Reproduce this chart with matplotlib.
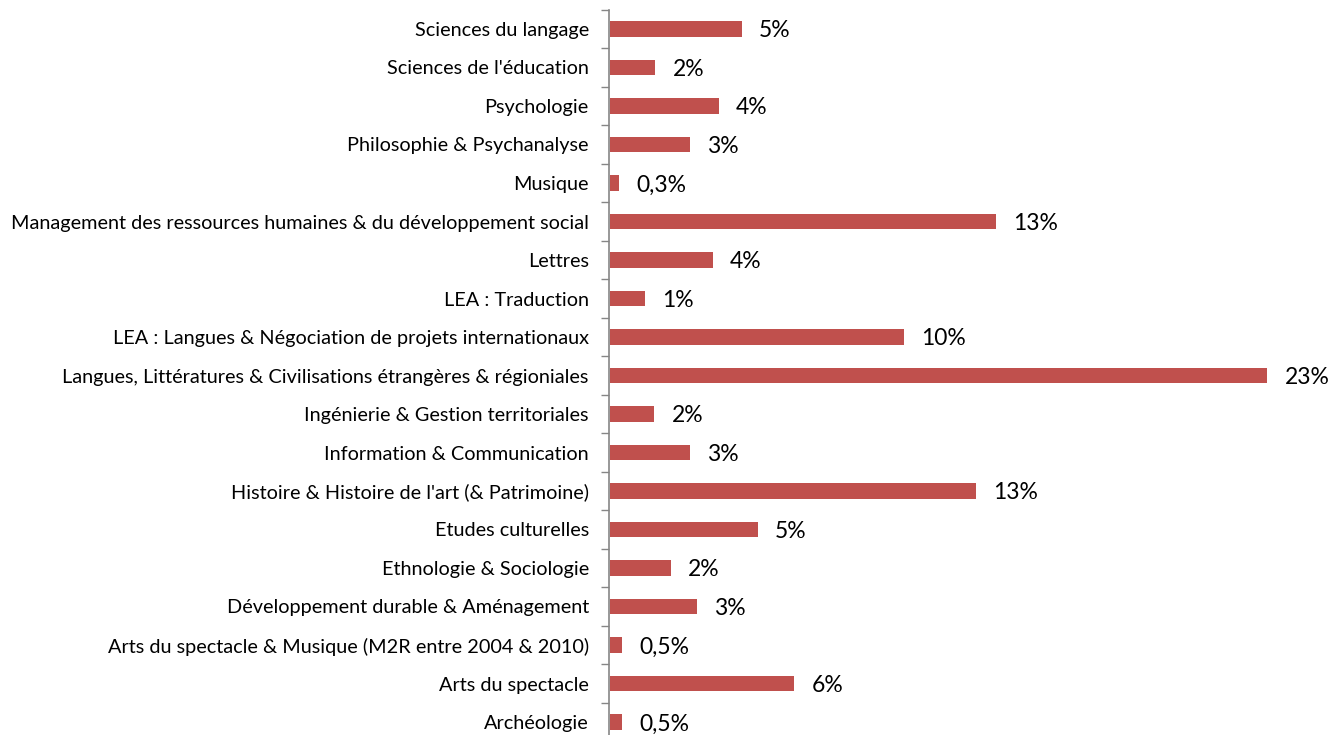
import matplotlib
matplotlib.use("Agg")
import matplotlib.pyplot as plt
import numpy as np

# Categories listed top to bottom as in the chart
categories = [
    "Sciences du langage",
    "Sciences de l'éducation",
    "Psychologie",
    "Philosophie & Psychanalyse",
    "Musique",
    "Management des ressources humaines & du développement social",
    "Lettres",
    "LEA : Traduction",
    "LEA : Langues & Négociation de projets internationaux",
    "Langues, Littératures & Civilisations étrangères & régioniales",
    "Ingénierie & Gestion territoriales",
    "Information & Communication",
    "Histoire & Histoire de l'art (& Patrimoine)",
    "Etudes culturelles",
    "Ethnologie & Sociologie",
    "Développement durable & Aménagement",
    "Arts du spectacle & Musique (M2R entre 2004 & 2010)",
    "Arts du spectacle",
    "Archéologie",
]
values = [4.62, 1.58, 3.8, 2.8, 0.32, 13.5, 3.6, 1.23, 10.3, 23.0,
          1.55, 2.8, 12.8, 5.18, 2.13, 3.04, 0.42, 6.44, 0.42]
value_labels = ["5%", "2%", "4%", "3%", "0,3%", "13%", "4%", "1%", "10%", "23%",
                "2%", "3%", "13%", "5%", "2%", "3%", "0,5%", "6%", "0,5%"]

plt.rcParams["font.family"] = ["Lato", "DejaVu Sans"]

W, H = 1341, 735
fig = plt.figure(figsize=(W / 100, H / 100), dpi=100)
left = 609 / W
top = 9.75
ax = fig.add_axes([left, 0, 1 - left - 0.01, (H - top) / H])

n = len(categories)
y = np.arange(n)[::-1]  # first category at top
ax.barh(y, values, height=0.39, color="#C0504D", left=0.04)

for yi, v, lab in zip(y, values, value_labels):
    ax.text(v + 0.04 + 0.6, yi - 0.05, lab, va="center", ha="left", fontsize=16.5, color="black")

px_per_row = 38.5
ax.set_ylim(-13 / px_per_row, n - 0.5)
ax.set_xlim(0, (W * (1 - left - 0.01)) / 28.57)

ax.set_yticks(y)
ax.set_yticklabels(categories, fontsize=14.3)
ax.tick_params(axis="y", which="major", length=0, pad=14.5)
ax.set_yticks(np.arange(n) + 0.5, minor=True)
ax.tick_params(axis="y", which="minor", length=6, width=1, color="#868686")
ax.set_xticks([])

for s in ["top", "right", "bottom"]:
    ax.spines[s].set_visible(False)
ax.spines["left"].set_color("#868686")
ax.spines["left"].set_linewidth(1.2)

fig.savefig("out.png", dpi=100)
